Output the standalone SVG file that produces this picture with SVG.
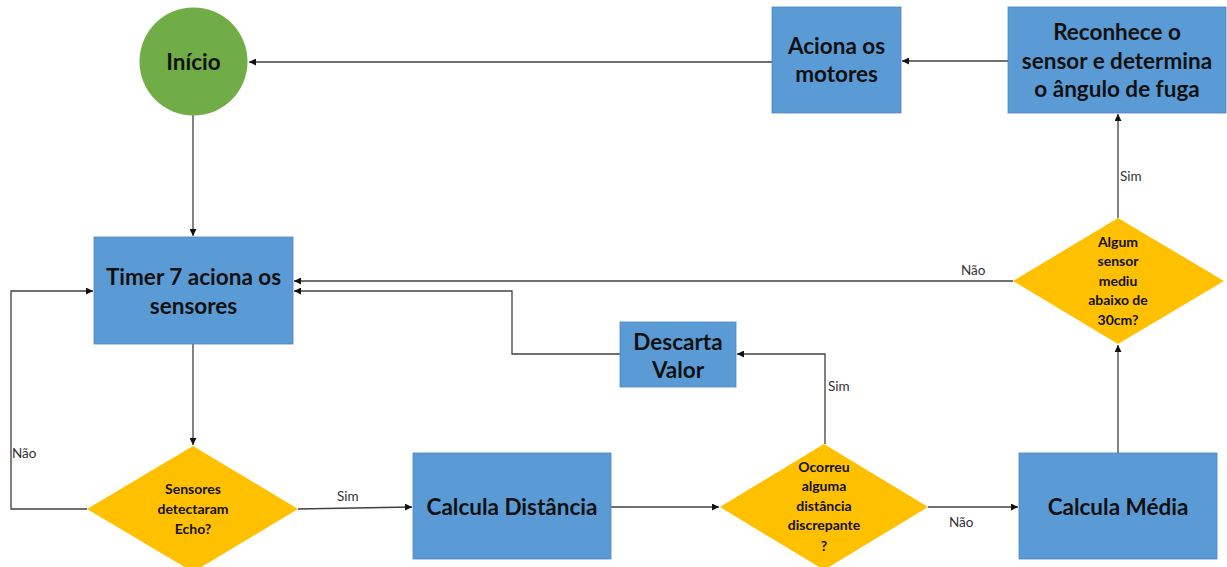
<svg xmlns="http://www.w3.org/2000/svg" width="1227" height="567" viewBox="0 0 1227 567">
<style>
.box{fill:#5B9BD5;stroke:#4A86C0;stroke-width:0.8}
.dia{fill:#FFC000}
.t{font-family:Lato,"Liberation Sans",sans-serif;font-weight:bold;font-size:22.5px;fill:#111;text-anchor:middle}
.s{font-family:Lato,"Liberation Sans",sans-serif;font-weight:bold;font-size:14px;fill:#111;text-anchor:middle}
.lbl{font-family:Lato,"Liberation Sans",sans-serif;font-size:13.5px;fill:#333}
.c{fill:none;stroke:#404040;stroke-width:1.3}
</style>
<defs>
<marker id="ar" viewBox="0 0 10 10" refX="10" refY="5" markerWidth="7" markerHeight="7" markerUnits="userSpaceOnUse" orient="auto">
<path d="M0,0 L10,5 L0,10 z" fill="#111"/>
</marker>
</defs>
<rect width="1227" height="567" fill="#fff"/>
<g id="connectors">
<path class="c" d="M1008,61 L902,61" marker-end="url(#ar)"/>
<path class="c" d="M772,62 L249,62" marker-end="url(#ar)"/>
<path class="c" d="M193,115 L193,236" marker-end="url(#ar)"/>
<path class="c" d="M193,344 L193,445" marker-end="url(#ar)"/>
<path class="c" d="M87,509 L11,509 L11,291 L93,291" marker-end="url(#ar)"/>
<path class="c" d="M298,509 L412,507" marker-end="url(#ar)"/>
<path class="c" d="M611,507 L719,507" marker-end="url(#ar)"/>
<path class="c" d="M825,444 L825,354 L737,354" marker-end="url(#ar)"/>
<path class="c" d="M620,354 L512,354 L512,291 L294,291" marker-end="url(#ar)"/>
<path class="c" d="M928,507 L1018,507" marker-end="url(#ar)"/>
<path class="c" d="M1118,453 L1118,345" marker-end="url(#ar)"/>
<path class="c" d="M1013,281 L294,281" marker-end="url(#ar)"/>
<path class="c" d="M1118,218 L1118,114" marker-end="url(#ar)"/>
<text class="lbl" x="12" y="458">Não</text>
<text class="lbl" x="337" y="501">Sim</text>
<text class="lbl" x="828" y="391">Sim</text>
<text class="lbl" x="949" y="527">Não</text>
<text class="lbl" x="961" y="275">Não</text>
<text class="lbl" x="1120" y="181">Sim</text>
</g>
<g id="inicio">
<circle cx="193.5" cy="61.5" r="54" fill="#70AD47"/>
<text class="t" x="193.5" y="70">Início</text>
</g>
<g id="aciona">
<rect class="box" x="772" y="7" width="129" height="106"/>
<text class="t" x="836.5" y="54">Aciona os</text>
<text class="t" x="836.5" y="82">motores</text>
</g>
<g id="reconhece">
<rect class="box" x="1008" y="7" width="218" height="106"/>
<text class="t" x="1117" y="40">Reconhece o</text>
<text class="t" x="1117" y="69">sensor e determina</text>
<text class="t" x="1117" y="97">o ângulo de fuga</text>
</g>
<g id="timer">
<rect class="box" x="94" y="237" width="199" height="107"/>
<text class="t" x="193.5" y="285">Timer 7 aciona os</text>
<text class="t" x="193.5" y="314">sensores</text>
</g>
<g id="sensores">
<polygon class="dia" points="193,446 298,509 193,572 87,509"/>
<text class="s" x="193" y="494">Sensores</text>
<text class="s" x="193" y="514">detectaram</text>
<text class="s" x="193" y="534">Echo?</text>
</g>
<g id="distancia">
<rect class="box" x="413" y="453" width="198" height="106"/>
<text class="t" x="512" y="515">Calcula Distância</text>
</g>
<g id="descarta">
<rect class="box" x="620" y="322" width="116" height="65"/>
<text class="t" x="678" y="350">Descarta</text>
<text class="t" x="678" y="378">Valor</text>
</g>
<g id="ocorreu">
<polygon class="dia" points="824,444 928,507 824,570 720,507"/>
<text class="s" x="824" y="472">Ocorreu</text>
<text class="s" x="824" y="491">alguma</text>
<text class="s" x="824" y="511">distância</text>
<text class="s" x="824" y="530">discrepante</text>
<text class="s" x="824" y="551">?</text>
</g>
<g id="media">
<rect class="box" x="1019" y="453" width="198" height="106"/>
<text class="t" x="1118" y="515">Calcula Média</text>
</g>
<g id="algum">
<polygon class="dia" points="1118,218 1224,281 1118,344 1013,281"/>
<text class="s" x="1118" y="247">Algum</text>
<text class="s" x="1118" y="266">sensor</text>
<text class="s" x="1118" y="286">mediu</text>
<text class="s" x="1118" y="305">abaixo de</text>
<text class="s" x="1118" y="325">30cm?</text>
</g>
</svg>
